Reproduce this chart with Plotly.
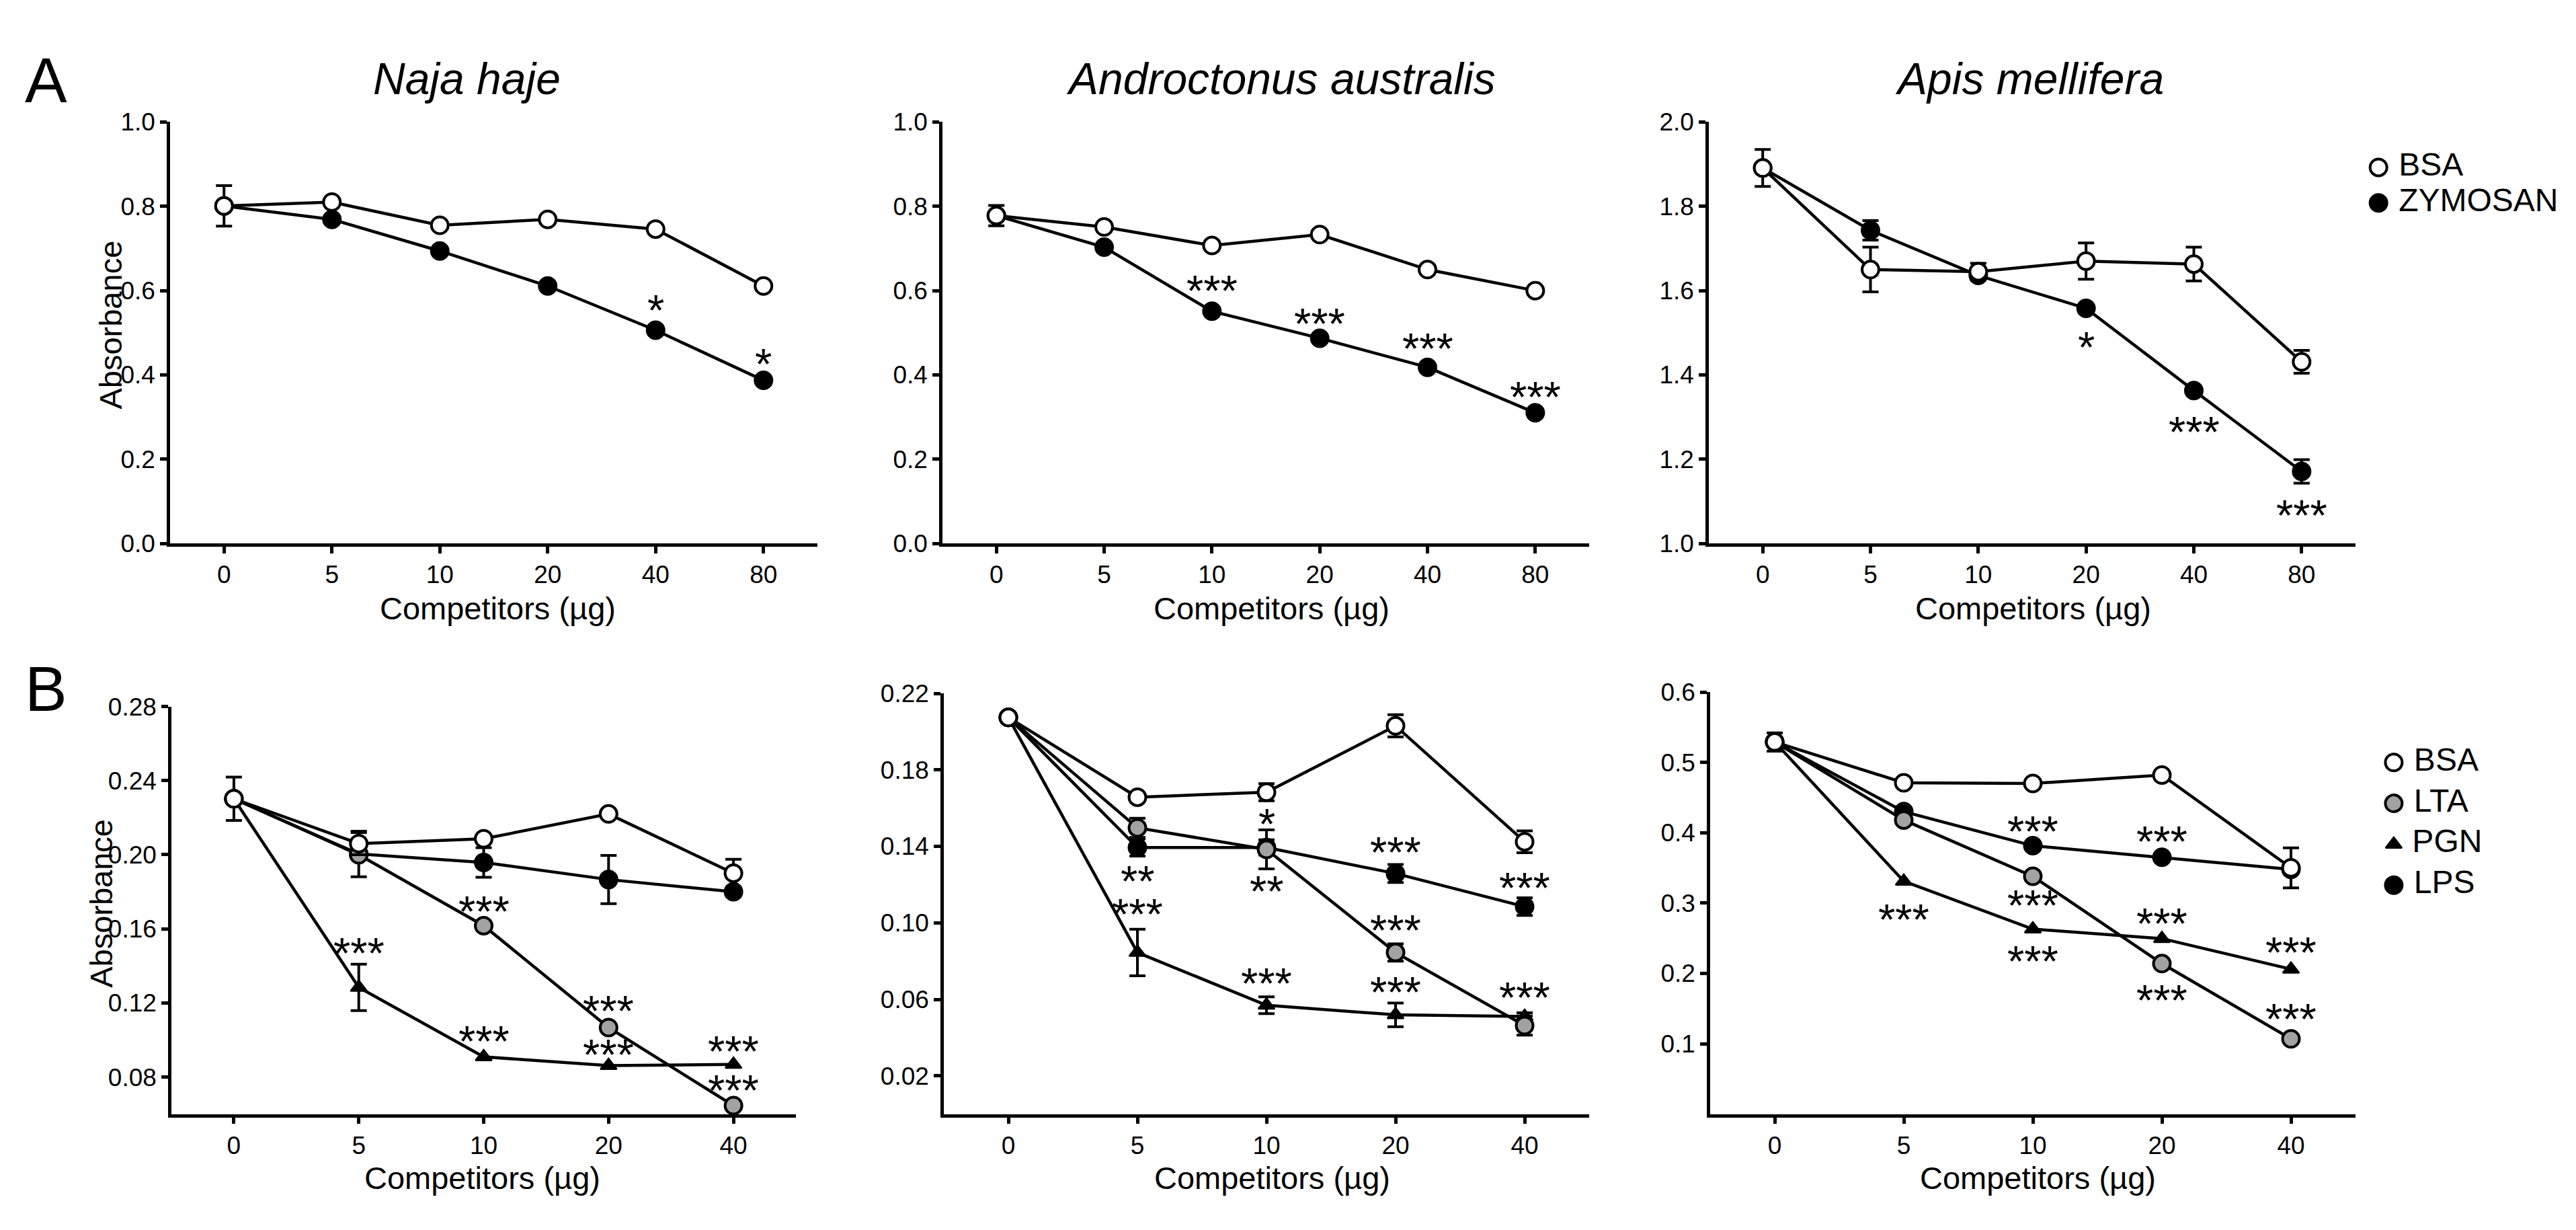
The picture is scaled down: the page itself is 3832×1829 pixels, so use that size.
import plotly.graph_objects as go

W, H = 3832, 1829
FONT = "Liberation Sans, Arial, Helvetica, sans-serif"

# ---------------- data ----------------
doses_a = ["0", "5", "10", "20", "40", "80"]
doses_b = ["0", "5", "10", "20", "40"]

species = ["Naja haje", "Androctonus australis", "Apis mellifera"]

# Row A : BSA vs ZYMOSAN
naja_a_bsa = [0.801, 0.810, 0.755, 0.769, 0.746, 0.611]
naja_a_bsa_err = [0.048, 0, 0, 0, 0, 0]
naja_a_zym = [0.801, 0.769, 0.694, 0.611, 0.506, 0.387]
naja_a_zym_err = [0, 0, 0, 0, 0, 0]

andro_a_bsa = [0.778, 0.751, 0.707, 0.733, 0.650, 0.600]
andro_a_bsa_err = [0.024, 0, 0, 0, 0, 0]
andro_a_zym = [0.778, 0.703, 0.551, 0.487, 0.418, 0.310]
andro_a_zym_err = [0, 0, 0, 0, 0, 0]

apis_a_bsa = [1.891, 1.650, 1.645, 1.670, 1.663, 1.431]
apis_a_bsa_err = [0.044, 0.053, 0.020, 0.043, 0.040, 0.027]
apis_a_zym = [1.891, 1.743, 1.636, 1.558, 1.363, 1.171]
apis_a_zym_err = [0, 0.023, 0.010, 0, 0, 0.028]

# Row B : BSA, LTA, PGN, LPS
naja_b_bsa = [0.2302, 0.2060, 0.2086, 0.2220, 0.1900]
naja_b_bsa_err = [0.0117, 0.0060, 0, 0, 0.0075]
naja_b_lta = [0.2302, 0.2000, 0.1617, 0.1067, 0.0646]
naja_b_lta_err = [0, 0, 0, 0, 0]
naja_b_pgn = [0.2302, 0.1284, 0.0909, 0.0862, 0.0868]
naja_b_pgn_err = [0, 0.0125, 0, 0, 0]
naja_b_lps = [0.2302, 0.2004, 0.1958, 0.1866, 0.1800]
naja_b_lps_err = [0, 0.0123, 0.0080, 0.0130, 0.0025]

andro_b_bsa = [0.2074, 0.1657, 0.1683, 0.2030, 0.1424]
andro_b_bsa_err = [0, 0, 0.0045, 0.0058, 0.0057]
andro_b_lta = [0.2074, 0.1497, 0.1384, 0.0845, 0.0463]
andro_b_lta_err = [0, 0.0050, 0.0102, 0.0045, 0.0050]
andro_b_pgn = [0.2074, 0.0845, 0.0569, 0.0519, 0.0510]
andro_b_pgn_err = [0, 0.0122, 0.0044, 0.0062, 0.0020]
andro_b_lps = [0.2074, 0.1394, 0.1394, 0.1258, 0.1085]
andro_b_lps_err = [0, 0.0045, 0.0040, 0.0047, 0.0046]

apis_b_bsa = [0.529, 0.471, 0.470, 0.482, 0.350]
apis_b_bsa_err = [0.013, 0, 0, 0, 0.0285]
apis_b_lta = [0.529, 0.418, 0.338, 0.214, 0.107]
apis_b_lta_err = [0, 0, 0, 0, 0]
apis_b_pgn = [0.529, 0.331, 0.263, 0.2495, 0.206]
apis_b_pgn_err = [0, 0, 0, 0, 0]
apis_b_lps = [0.529, 0.430, 0.3815, 0.365, 0.348]
apis_b_lps_err = [0, 0, 0, 0, 0]

# significance marks: (dose, y value of the mark, label)
naja_a_stars = [("40", 0.568, "*"), ("80", 0.440, "*")]
andro_a_stars = [("10", 0.613, "***"), ("20", 0.535, "***"), ("40", 0.476, "***"), ("80", 0.362, "***")]
apis_a_stars = [("20", 1.480, "*"), ("40", 1.278, "***"), ("80", 1.081, "***")]

naja_b_stars = [("5", 0.150, "***"), ("10", 0.1726, "***"), ("10", 0.1026, "***"),
                ("20", 0.119, "***"), ("20", 0.0954, "***"), ("40", 0.0969, "***"), ("40", 0.0759, "***")]
andro_b_stars = [("5", 0.1248, "**"), ("5", 0.1078, "***"), ("10", 0.1549, "*"), ("10", 0.1195, "**"),
                 ("10", 0.0715, "***"), ("20", 0.1401, "***"), ("20", 0.0992, "***"), ("20", 0.0669, "***"),
                 ("40", 0.1212, "***"), ("40", 0.0639, "***")]
apis_b_stars = [("5", 0.285, "***"), ("10", 0.410, "***"), ("10", 0.305, "***"), ("10", 0.226, "***"),
                ("20", 0.396, "***"), ("20", 0.279, "***"), ("20", 0.1707, "***"),
                ("40", 0.2386, "***"), ("40", 0.1435, "***")]

# axis ticks
yticks_a = [0.0, 0.2, 0.4, 0.6, 0.8, 1.0]
yticks_a3 = [1.0, 1.2, 1.4, 1.6, 1.8, 2.0]
yticks_b1 = [0.08, 0.12, 0.16, 0.20, 0.24, 0.28]
yticks_b2 = [0.02, 0.06, 0.10, 0.14, 0.18, 0.22]
yticks_b3 = [0.1, 0.2, 0.3, 0.4, 0.5, 0.6]

legend_a_labels = ["BSA", "ZYMOSAN"]
legend_b_labels = ["BSA", "LTA", "PGN", "LPS"]

x_title = "Competitors (µg)"
y_title = "Absorbance"

# ---------------- styles ----------------
STYLE = {
    "BSA": dict(symbol="circle", color="white", size=25, line=dict(color="black", width=4)),
    "ZYMOSAN": dict(symbol="circle", color="black", size=25, line=dict(color="black", width=4)),
    "LTA": dict(symbol="circle", color="#a2a2a2", size=25, line=dict(color="black", width=4)),
    "PGN": dict(symbol="triangle-up", color="black", size=21, line=dict(color="black", width=2.5)),
    "LPS": dict(symbol="circle", color="black", size=25, line=dict(color="black", width=4)),
}

# panel geometry in pixels: x-domain, y-domain(top, bottom), y range, ticks, format
panels = [
    dict(xd=(245, 1208), yd=(157, 798), yr=[0, 1.0], yt=yticks_a, fmt=".1f", cats=doses_a,
         series=[("ZYMOSAN", naja_a_zym, naja_a_zym_err), ("BSA", naja_a_bsa, naja_a_bsa_err)],
         stars=naja_a_stars),
    dict(xd=(1394, 2356), yd=(157, 798), yr=[0, 1.0], yt=yticks_a, fmt=".1f", cats=doses_a,
         series=[("ZYMOSAN", andro_a_zym, andro_a_zym_err), ("BSA", andro_a_bsa, andro_a_bsa_err)],
         stars=andro_a_stars),
    dict(xd=(2534, 3496), yd=(157, 798), yr=[1.0, 2.0], yt=yticks_a3, fmt=".1f", cats=doses_a,
         series=[("ZYMOSAN", apis_a_zym, apis_a_zym_err), ("BSA", apis_a_bsa, apis_a_bsa_err)],
         stars=apis_a_stars),
    dict(xd=(247, 1176), yd=(1046, 1666), yr=[0.06, 0.28], yt=yticks_b1, fmt=".2f", cats=doses_b,
         series=[("LPS", naja_b_lps, naja_b_lps_err), ("PGN", naja_b_pgn, naja_b_pgn_err),
                 ("LTA", naja_b_lta, naja_b_lta_err), ("BSA", naja_b_bsa, naja_b_bsa_err)],
         stars=naja_b_stars),
    dict(xd=(1396, 2356), yd=(1026, 1666), yr=[0.0, 0.22], yt=yticks_b2, fmt=".2f", cats=doses_b,
         series=[("LPS", andro_b_lps, andro_b_lps_err), ("PGN", andro_b_pgn, andro_b_pgn_err),
                 ("LTA", andro_b_lta, andro_b_lta_err), ("BSA", andro_b_bsa, andro_b_bsa_err)],
         stars=andro_b_stars),
    dict(xd=(2536, 3496), yd=(1024, 1666), yr=[0.0, 0.6], yt=yticks_b3, fmt=".1f", cats=doses_b,
         series=[("LPS", apis_b_lps, apis_b_lps_err), ("PGN", apis_b_pgn, apis_b_pgn_err),
                 ("LTA", apis_b_lta, apis_b_lta_err), ("BSA", apis_b_bsa, apis_b_bsa_err)],
         stars=apis_b_stars),
]


def fx(p):
    return p / W


def fy(p):
    return 1 - p / H


fig = go.Figure()
layout = dict(
    width=W, height=H, margin=dict(l=0, r=0, t=0, b=0),
    paper_bgcolor="white", plot_bgcolor="white", showlegend=False,
    font=dict(family=FONT, color="black", size=37),
)
annotations = []

axis_common = dict(
    showline=True, linecolor="black", linewidth=4.5, ticks="outside", ticklen=10,
    tickwidth=4.5, tickcolor="black", showgrid=False, zeroline=False,
    tickfont=dict(family=FONT, size=37, color="black"), mirror=False,
)

for i, p in enumerate(panels):
    n = i + 1
    xa = "xaxis" if n == 1 else f"xaxis{n}"
    ya = "yaxis" if n == 1 else f"yaxis{n}"
    xr = "x" if n == 1 else f"x{n}"
    yr_ = "y" if n == 1 else f"y{n}"
    cats = p["cats"]
    ncat = len(cats)
    layout[xa] = dict(axis_common, type="category", categoryorder="array", categoryarray=cats,
                      range=[-0.5, ncat - 0.5], domain=[fx(p["xd"][0]), fx(p["xd"][1])], anchor=yr_)
    layout[ya] = dict(axis_common, range=p["yr"], tickvals=p["yt"], tickformat=p["fmt"],
                      domain=[fy(p["yd"][1]), fy(p["yd"][0])], anchor=xr)
    for name, vals, err in p["series"]:
        # error bars (only where an error is present)
        ex = [c for c, e in zip(cats, err) if e > 0]
        ey = [v for v, e in zip(vals, err) if e > 0]
        ee = [e for e in err if e > 0]
        if ex:
            fig.add_trace(go.Scatter(
                x=ex, y=ey, mode="markers", marker=dict(size=1, color="rgba(0,0,0,0)"),
                error_y=dict(type="data", array=ee, visible=True, thickness=4, width=12, color="black"),
                xaxis=xr, yaxis=yr_, cliponaxis=False, hoverinfo="skip", showlegend=False))
        fig.add_trace(go.Scatter(
            x=cats, y=vals, mode="lines+markers", name=name,
            line=dict(color="black", width=4.5), marker=STYLE[name],
            xaxis=xr, yaxis=yr_, cliponaxis=False, showlegend=False))
    for cat, yv, txt in p["stars"]:
        annotations.append(dict(x=cats.index(cat), y=yv, xref=xr, yref=yr_, text=txt, showarrow=False,
                                xanchor="center", yanchor="middle", yshift=-9,
                                font=dict(family=FONT, size=65, color="black")))

# custom legends drawn on hidden axes
legends = [
    dict(labels=legend_a_labels, xd=(3500, 3832), yd=(199, 307)),
    dict(labels=legend_b_labels, xd=(3525, 3832), yd=(1100, 1349)),
]
for j, lg in enumerate(legends):
    n = 7 + j
    layout[f"xaxis{n}"] = dict(domain=[fx(lg["xd"][0]), fx(lg["xd"][1])], range=[-1, 10],
                               visible=False, anchor=f"y{n}", fixedrange=True)
    layout[f"yaxis{n}"] = dict(domain=[fy(lg["yd"][1]), fy(lg["yd"][0])], type="category",
                               categoryorder="array", categoryarray=lg["labels"],
                               range=[len(lg["labels"]) - 0.5, -0.5], visible=False,
                               anchor=f"x{n}", fixedrange=True)
    for lab in lg["labels"]:
        fig.add_trace(go.Scatter(
            x=[0], y=[lab], mode="markers+text", text=["\u00a0" + lab], textposition="middle right",
            textfont=dict(family=FONT, size=48, color="black"), marker=STYLE[lab],
            xaxis=f"x{n}", yaxis=f"y{n}", cliponaxis=False, showlegend=False, hoverinfo="skip"))

# panel letters, species titles, axis titles
annotations.append(dict(x=fx(60), y=fy(94), xref="paper", yref="paper", text="A", showarrow=False,
                        xanchor="center", yanchor="middle", font=dict(family=FONT, size=94)))
annotations.append(dict(x=fx(60), y=fy(1019), xref="paper", yref="paper", text="B", showarrow=False,
                        xanchor="center", yanchor="middle", font=dict(family=FONT, size=94)))
for name, cx in zip(species, [686, 1897, 3011]):
    annotations.append(dict(x=fx(cx), y=fy(91), xref="paper", yref="paper",
                            text=f"<i>{name}</i>", showarrow=False, xanchor="center", yanchor="middle",
                            font=dict(family=FONT, size=66)))
for cx, cy in [(732, 897), (1883, 897), (3016, 897), (709, 1763), (1884, 1763), (3023, 1763)]:
    annotations.append(dict(x=fx(cx), y=fy(cy), xref="paper", yref="paper", text=x_title,
                            showarrow=False, xanchor="center", yanchor="middle",
                            font=dict(family=FONT, size=47)))
for cx, cy in [(157, 466), (143, 1346)]:
    annotations.append(dict(x=fx(cx), y=fy(cy), xref="paper", yref="paper", text=y_title,
                            showarrow=False, xanchor="center", yanchor="middle", textangle=-90,
                            font=dict(family=FONT, size=47)))

layout["annotations"] = annotations
fig.update_layout(**layout)
fig.write_html("out.html")
